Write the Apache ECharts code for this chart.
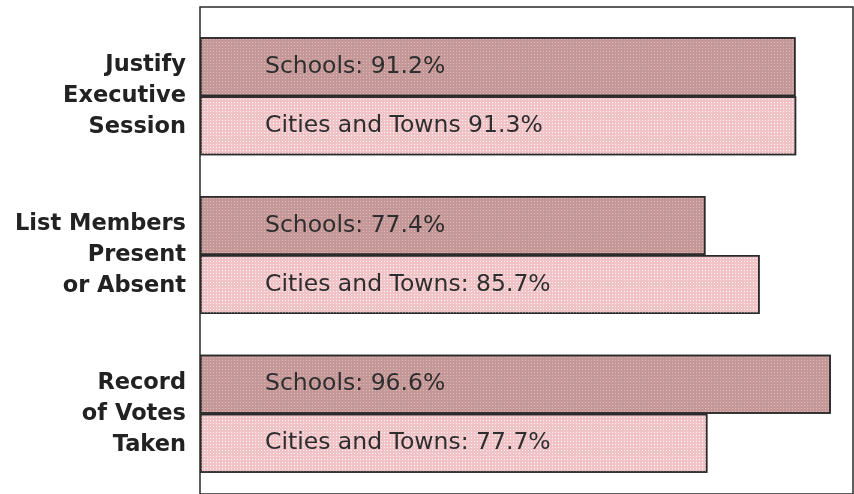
<!DOCTYPE html>
<html>
<head>
<meta charset="utf-8">
<script src="https://cdn.jsdelivr.net/npm/echarts@6/dist/echarts.min.js"></script>
<style>html,body{margin:0;padding:0;background:#fff}#c{width:854px;height:494px}</style>
</head>
<body>
<div id="c"></div>
<script>
const categories = ['Justify\nExecutive\nSession', 'List Members\nPresent\nor Absent', 'Record\nof Votes\nTaken'];
const schoolsValues = [91.2, 77.4, 96.6];
const citiesValues = [91.3, 85.7, 77.7];
const schoolsLabels = ['Schools: 91.2%', 'Schools: 77.4%', 'Schools: 96.6%'];
const citiesLabels = ['Cities and Towns 91.3%', 'Cities and Towns: 85.7%', 'Cities and Towns: 77.7%'];

const chart = echarts.init(document.getElementById('c'), null, {renderer: 'canvas'});
const labelStyle = (texts) => ({
  show: true, position: 'insideLeft', distance: 65,
  fontFamily: 'DejaVu Sans', fontSize: 23.5, color: '#2e2e2e',
  formatter: p => texts[p.dataIndex]
});
chart.setOption({
  animation: false,
  grid: [
    {left: 200, right: 1, top: 7, bottom: -20, show: true, borderColor: '#2a2a2a', borderWidth: 1.5, backgroundColor: 'transparent'},
    {left: 200, right: 1, top: 17, bottom: 1}
  ],
  xAxis: [
    {gridIndex: 0, show: false, type: 'value'},
    {gridIndex: 1, type: 'value', min: 0, max: 100, show: false}
  ],
  yAxis: [
    {gridIndex: 0, show: false, type: 'value'},
    {gridIndex: 1, type: 'category', inverse: true, data: categories,
     axisLine: {show: false}, axisTick: {show: false},
     axisLabel: {margin: 14, fontFamily: 'DejaVu Sans', fontWeight: 'bold', fontSize: 22.5, lineHeight: 31, color: '#222', align: 'right'}}
  ],
  series: [
    {name: 'Schools', type: 'bar', xAxisIndex: 1, yAxisIndex: 1, data: schoolsValues,
     barWidth: 59, barGap: '0%',
     itemStyle: {color: '#c29898', borderColor: '#2a2a2a', borderWidth: 1.5,
       decal: {symbol: 'rect', symbolSize: 1, rotation: 0, dashArrayX: [1, 2], dashArrayY: [1, 2], color: 'rgba(238,180,180,0.95)'}},
     label: labelStyle(schoolsLabels)},
    {name: 'Cities and Towns', type: 'bar', xAxisIndex: 1, yAxisIndex: 1, data: citiesValues,
     barWidth: 59, barGap: '0%',
     itemStyle: {color: '#f1c3c7', borderColor: '#2a2a2a', borderWidth: 1.5,
       decal: {symbol: 'rect', symbolSize: 1, rotation: 0, dashArrayX: [1, 2], dashArrayY: [1, 2], color: 'rgba(255,255,255,0.85)'}},
     label: labelStyle(citiesLabels)}
  ]
});
</script>
</body>
</html>
